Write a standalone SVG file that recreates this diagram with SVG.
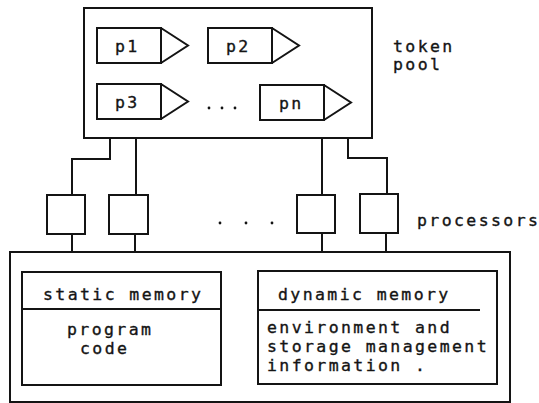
<svg xmlns="http://www.w3.org/2000/svg" width="539" height="403" viewBox="0 0 539 403">
  <style>
    .box { fill: none; stroke: #141414; stroke-width: 2; }
    .wire { fill: none; stroke: #141414; stroke-width: 2; }
    .lbl { font-family: "DejaVu Sans Mono", "Liberation Mono", monospace; font-size: 16.5px; letter-spacing: 2.4px; fill: #141414; stroke: #141414; stroke-width: 0.35; }
    .dot { fill: #141414; }
  </style>
  <defs>
    <!-- token shape: rectangle with a pointed tail -->
    <path id="tok" class="box" d="M0,0 H64 V35 H0 Z M64,0 L91,17.5 L64,35"/>
  </defs>
  <rect width="539" height="403" fill="#ffffff"/>

  <!-- token pool -->
  <g id="token-pool">
    <rect class="box" x="84" y="8" width="288" height="130"/>
    <text class="lbl" x="393" y="52">token</text>
    <text class="lbl" x="393" y="70">pool</text>
  </g>
  <g id="token-p1">
    <use href="#tok" x="97" y="28"/>
    <text class="lbl" x="115" y="52">p1</text>
  </g>
  <g id="token-p2">
    <use href="#tok" x="208" y="28"/>
    <text class="lbl" x="226" y="52">p2</text>
  </g>
  <g id="token-p3">
    <use href="#tok" x="97" y="84"/>
    <text class="lbl" x="115" y="108">p3</text>
  </g>
  <g id="token-pn">
    <use href="#tok" x="260" y="85"/>
    <text class="lbl" x="279" y="109">pn</text>
  </g>
  <g id="pool-ellipsis">
    <circle class="dot" cx="209" cy="108" r="1.4"/>
    <circle class="dot" cx="222" cy="108" r="1.4"/>
    <circle class="dot" cx="235" cy="108" r="1.4"/>
  </g>

  <!-- processors -->
  <g id="proc-1"><rect class="box" x="47" y="195" width="38" height="39"/></g>
  <g id="proc-2"><rect class="box" x="109" y="195" width="39" height="39"/></g>
  <g id="proc-3"><rect class="box" x="297" y="195" width="38" height="38"/></g>
  <g id="proc-4"><rect class="box" x="360" y="194" width="38" height="39"/></g>
  <g id="proc-ellipsis">
    <circle class="dot" cx="220" cy="223" r="1.4"/>
    <circle class="dot" cx="246" cy="223" r="1.4"/>
    <circle class="dot" cx="272" cy="223" r="1.4"/>
  </g>
  <g id="proc-label">
    <text class="lbl" x="417" y="226">processors</text>
  </g>

  <!-- shared memory -->
  <g id="memory">
    <rect class="box" x="10" y="252" width="500" height="150"/>
  </g>
  <g id="static-memory">
    <rect class="box" x="22" y="272" width="199" height="113"/>
    <line class="box" x1="22" y1="309" x2="221" y2="309"/>
    <text class="lbl" x="43" y="300">static memory</text>
    <text class="lbl" x="67" y="335">program</text>
    <text class="lbl" x="80" y="354">code</text>
  </g>
  <g id="dynamic-memory">
    <rect class="box" x="258" y="271" width="239" height="113"/>
    <line class="box" x1="258" y1="310" x2="480" y2="310"/>
    <text class="lbl" x="278" y="300">dynamic memory</text>
    <text class="lbl" x="267" y="333">environment and</text>
    <text class="lbl" x="267" y="352">storage management</text>
    <text class="lbl" x="267" y="371">information .</text>
  </g>

  <!-- connectors -->
  <g id="connectors">
    <path class="wire" d="M110,138 V159 H72 V195"/>
    <path class="wire" d="M136,138 V195"/>
    <path class="wire" d="M322,138 V195"/>
    <path class="wire" d="M348,138 V158 H387 V194"/>
    <path class="wire" d="M72,234 V252"/>
    <path class="wire" d="M135,234 V252"/>
    <path class="wire" d="M322,233 V252"/>
    <path class="wire" d="M386,233 V252"/>
  </g>
</svg>
